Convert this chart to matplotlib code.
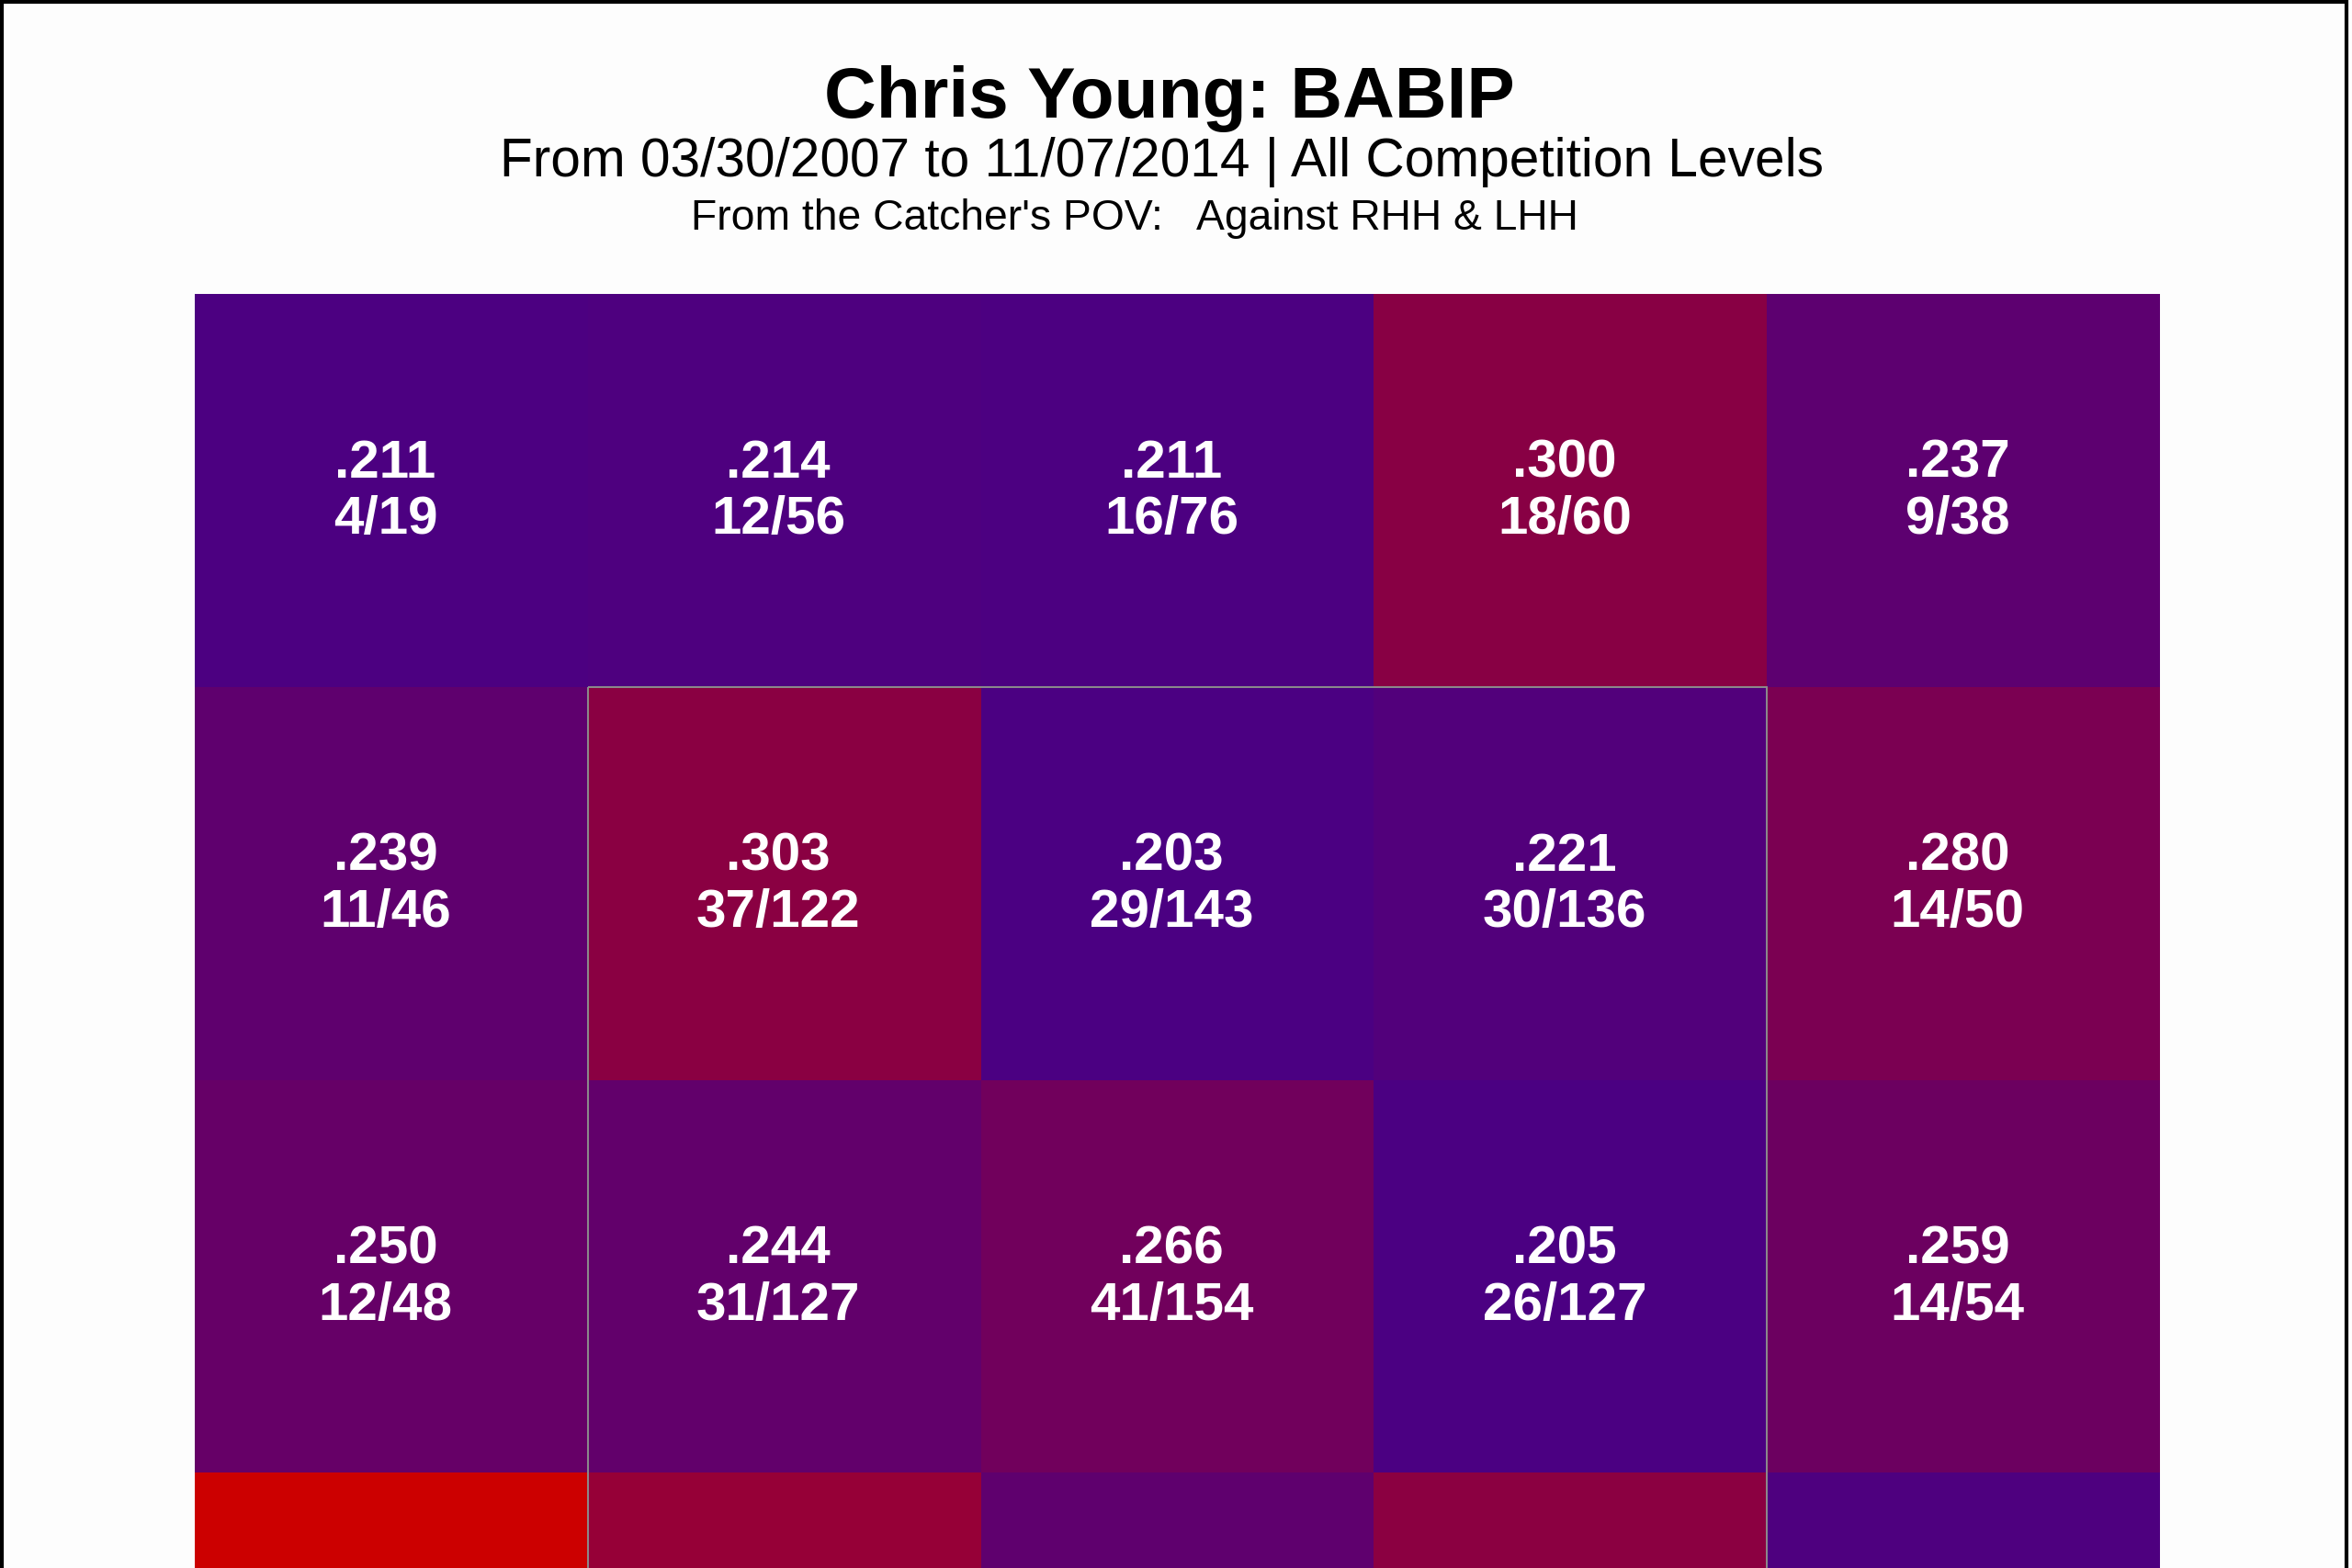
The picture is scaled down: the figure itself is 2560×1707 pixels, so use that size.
import matplotlib
matplotlib.use("Agg")
import matplotlib.pyplot as plt
import numpy as np
from matplotlib.colors import LinearSegmentedColormap
from matplotlib.patches import Rectangle

# BABIP by zone, catcher's view, top row first (row 4 is cut off in the source;
# its values are estimated from the cell colours, its labels are not visible)
babip = [
    [0.211, 0.214, 0.211, 0.300, 0.237],
    [0.239, 0.303, 0.203, 0.221, 0.280],
    [0.250, 0.244, 0.266, 0.205, 0.259],
    [0.400, 0.320, 0.240, 0.305, 0.215],
]
hits_bip = [
    ["4/19", "12/56", "16/76", "18/60", "9/38"],
    ["11/46", "37/122", "29/143", "30/136", "14/50"],
    ["12/48", "31/127", "41/154", "26/127", "14/54"],
    [None, None, None, None, None],
]

title = "Chris Young: BABIP"
subtitle = "From 03/30/2007 to 11/07/2014 | All Competition Levels"
subtitle2 = "From the Catcher's POV:   Against RHH & LHH"

W, H = 2560, 1707
fig = plt.figure(figsize=(W / 100, H / 100), dpi=100, facecolor="#fdfdfd")
plt.rcParams["font.family"] = ["Liberation Sans", "DejaVu Sans"]

n_rows = len(babip)
n_cols = len(babip[0])
cell = 427.8
left, top = 212, 320
ax = fig.add_axes([left / W, (H - top - n_rows * cell) / H,
                   n_cols * cell / W, n_rows * cell / H])

cmap = LinearSegmentedColormap.from_list("babip", ["#4b0082", "#cc0000"])
vals = np.array(babip)
ax.pcolormesh(np.arange(n_cols + 1), np.arange(n_rows + 1), vals,
              cmap=cmap, vmin=0.210, vmax=0.400)
ax.set_xlim(0, n_cols)
ax.set_ylim(n_rows, 0)
ax.axis("off")

for r in range(n_rows):
    for c in range(n_cols):
        if hits_bip[r][c] is None:
            continue
        ax.text(c + 0.485, r + 0.467, ("%.3f" % babip[r][c])[1:], color="white",
                fontsize=42, fontweight="bold", ha="center", va="baseline")
        ax.text(c + 0.485, r + 0.61, hits_bip[r][c], color="white",
                fontsize=42, fontweight="bold", ha="center", va="baseline")

# strike zone
ax.add_patch(Rectangle((1, 1), 3, 3, fill=False, edgecolor="#8c8c8c", lw=1.4,
                       clip_on=False))

fig.text(0.497, 1 - 128 / H, title, ha="center", va="baseline",
         fontsize=56.5, fontweight="bold")
fig.text(0.494, 1 - 192 / H, subtitle, ha="center", va="baseline", fontsize=42.2)
fig.text(0.4824, 1 - 250 / H, subtitle2, ha="center", va="baseline", fontsize=33.3)

# outer frame
fig.patches.append(Rectangle((2 / W, -0.1), 2552 / W, 1.1 - 2 / H,
                             transform=fig.transFigure, fill=False,
                             edgecolor="black", lw=3))

fig.savefig("out.png", dpi=100, facecolor=fig.get_facecolor())
